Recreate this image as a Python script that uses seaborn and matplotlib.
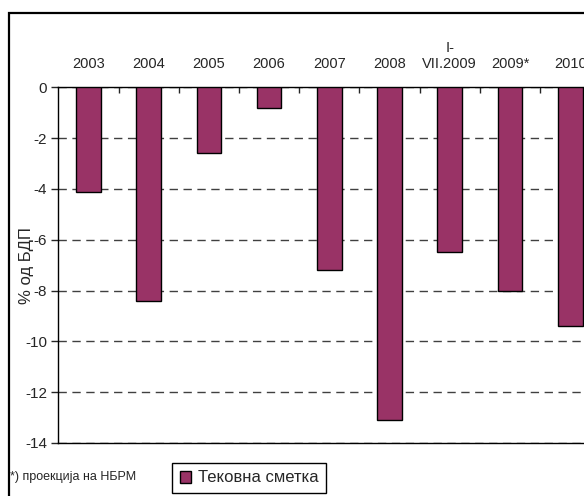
import matplotlib
matplotlib.use("Agg")
import matplotlib.pyplot as plt
import seaborn as sns
import pandas as pd
from matplotlib.patches import Patch, Rectangle
from matplotlib.ticker import FixedLocator

# podatoci
kategorii = ["2003", "2004", "2005", "2006", "2007", "2008", "I-\nVII.2009", "2009*", "2010"]
tekovna_smetka = [-4.1, -8.4, -2.6, -0.8, -7.2, -13.1, -6.5, -8.0, -9.4]
y_ticks = [0, -2, -4, -6, -8, -10, -12, -14]

df = pd.DataFrame({"kategorija": kategorii, "vrednost": tekovna_smetka})

sns.set_style("white")
plt.rcParams['font.family'] = ['Liberation Sans', 'DejaVu Sans']
plt.rcParams['axes.unicode_minus'] = False

W, H = 584, 496
fig = plt.figure(figsize=(W / 100, H / 100), dpi=100)

# nadvoresna ramka (isecena od desno i dole)
fig.patches.append(Rectangle((9 / W, -0.1), 1.2, 1 - 12.5 / H + 0.1, transform=fig.transFigure,
                             fill=False, edgecolor='black', linewidth=1.6, zorder=0))

ax = fig.add_axes([58.3 / W, (H - 443) / H, 542 / W, (443 - 87.4) / H])
sns.barplot(data=df, x="kategorija", y="vrednost", color="#993366", edgecolor="black",
            linewidth=1.0, width=0.41, saturation=1, ax=ax, zorder=3)

ax.set_xlim(-0.5, len(kategorii) - 0.5)
ax.set_ylim(-14, 0)
ax.set_yticks(y_ticks)
ax.set_yticklabels([str(t) for t in y_ticks], fontsize=11)
ax.set_xlabel("")
ax.set_ylabel("% од БДП", fontsize=12)
ax.yaxis.set_label_coords(-0.044, 0.5)

# x oska gore
ax.xaxis.tick_top()
ax.xaxis.set_minor_locator(FixedLocator([i + 0.5 for i in range(len(kategorii) - 1)]))
ax.tick_params(axis='x', which='major', length=0, pad=12, labelsize=10.5,
               top=True, bottom=False, labeltop=True, labelbottom=False)
ax.tick_params(axis='x', which='minor', length=4, direction='in', width=1,
               top=True, bottom=False)
ax.tick_params(axis='y', which='major', length=5, direction='out', width=1, left=True, pad=3)

ax.yaxis.grid(True, linestyle=(0, (6, 4)), color='#404040', linewidth=1.0)
ax.set_axisbelow(True)
for s in ['top', 'left', 'bottom']:
    ax.spines[s].set_visible(True)
    ax.spines[s].set_color('black')
    ax.spines[s].set_linewidth(1.0)
ax.spines['right'].set_visible(False)

fig.text(10 / W, 1 - 477 / H, "*) проекција на НБРМ", fontsize=9, va='center', ha='left')

handle = Patch(facecolor="#993366", edgecolor="black", linewidth=1.0)
fig.legend([handle], ["Тековна сметка"], loc='upper left',
           bbox_to_anchor=(172 / W, 1 - 463 / H), fontsize=12, frameon=True,
           fancybox=False, edgecolor='black', framealpha=1, handlelength=0.7,
           handleheight=0.7, handletextpad=0.4, borderpad=0.45, borderaxespad=0)

fig.savefig("out.png", dpi=100)
